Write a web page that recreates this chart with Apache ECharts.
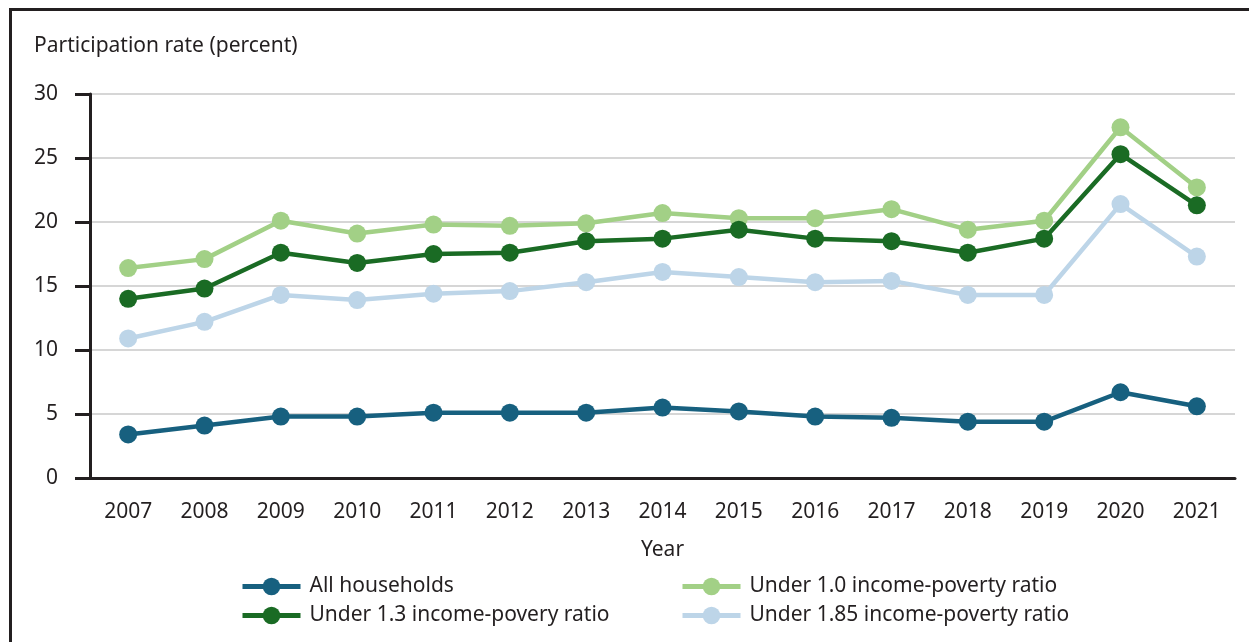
<!DOCTYPE html>
<html>
<head>
<meta charset="utf-8">
<script src="https://cdn.jsdelivr.net/npm/echarts@6/dist/echarts.min.js"></script>
<style>
  html, body { margin: 0; padding: 0; background: #fff; }
  #chart { width: 1249px; height: 642px; position: relative; }
  #frame { position: absolute; left: 9px; top: 8px; width: 1260px; height: 700px;
           border-left: 3px solid #231f20; border-top: 3px solid #231f20; pointer-events: none; }
</style>
</head>
<body>
<div id="chart"></div>
<div id="frame"></div>
<script>
const years = ['2007','2008','2009','2010','2011','2012','2013','2014','2015','2016','2017','2018','2019','2020','2021'];
const allHouseholds = [3.4, 4.1, 4.8, 4.8, 5.1, 5.1, 5.1, 5.5, 5.2, 4.8, 4.7, 4.4, 4.4, 6.7, 5.6];
const under10 = [16.4, 17.1, 20.1, 19.1, 19.8, 19.7, 19.9, 20.7, 20.3, 20.3, 21.0, 19.4, 20.1, 27.4, 22.7];
const under13 = [14.0, 14.8, 17.6, 16.8, 17.5, 17.6, 18.5, 18.7, 19.4, 18.7, 18.5, 17.6, 18.7, 25.3, 21.3];
const under185 = [10.9, 12.2, 14.3, 13.9, 14.4, 14.6, 15.3, 16.1, 15.7, 15.3, 15.4, 14.3, 14.3, 21.4, 17.3];
const yTicks = { min: 0, max: 30, interval: 5 };

const names = {
  all: 'All households',
  u10: 'Under 1.0 income-poverty ratio',
  u13: 'Under 1.3 income-povery ratio',
  u185: 'Under 1.85 income-poverty ratio'
};
const colors = { all: '#17607f', u10: '#a2d086', u13: '#1a6b24', u185: '#bdd5e8' };
const font = 'Noto Sans';
const fs = 21;
const textColor = '#231f20';

function mk(name, data, color) {
  return {
    name: name, type: 'line', data: data,
    symbol: 'circle', symbolSize: 18,
    lineStyle: { color: color, width: 4.5 },
    itemStyle: { color: color },
    emphasis: { disabled: true },
    animation: false
  };
}

const chart = echarts.init(document.getElementById('chart'), null, { renderer: 'canvas' });
const legendCommon = {
  orient: 'vertical', itemWidth: 58, itemHeight: 22, itemGap: 6, padding: 0,
  lineStyle: { width: 5 },
  textStyle: { fontFamily: font, fontSize: fs, color: textColor, padding: [0, 0, 0, 4], lineHeight: 23 },
  selectedMode: false
};
chart.setOption({
  animation: false,
  textStyle: { fontFamily: font },
  title: {
    text: 'Participation rate (percent)', left: 29, top: 31,
    textStyle: { fontFamily: font, fontSize: fs, fontWeight: 'normal', color: textColor }
  },
  legend: [
    Object.assign({ left: 240, top: 575, data: [names.all, names.u13] }, legendCommon),
    Object.assign({ left: 680, top: 575, data: [names.u10, names.u185] }, legendCommon)
  ],
  grid: { left: 90, right: 14, top: 94, bottom: 164, containLabel: false },
  xAxis: {
    type: 'category', data: years, boundaryGap: true,
    name: 'Year', nameLocation: 'middle', nameGap: 62,
    nameTextStyle: { fontFamily: font, fontSize: fs, color: textColor },
    axisLine: { lineStyle: { color: '#231f20', width: 3 } },
    axisTick: { alignWithLabel: true, length: 14, lineStyle: { color: '#231f20', width: 3 } },
    axisLabel: { fontFamily: font, fontSize: fs, color: textColor, margin: 24 }
  },
  yAxis: {
    type: 'value', min: yTicks.min, max: yTicks.max, interval: yTicks.interval,
    axisLine: { show: true, lineStyle: { color: '#231f20', width: 3 } },
    axisTick: { show: true, length: 15, lineStyle: { color: '#231f20', width: 3 } },
    axisLabel: { fontFamily: font, fontSize: fs, color: textColor, margin: 32 },
    splitLine: { lineStyle: { color: '#c8c8c8', width: 1.5 } }
  },
  series: [
    mk(names.u185, under185, colors.u185),
    mk(names.u10, under10, colors.u10),
    mk(names.u13, under13, colors.u13),
    mk(names.all, allHouseholds, colors.all)
  ]
});
</script>
</body>
</html>
